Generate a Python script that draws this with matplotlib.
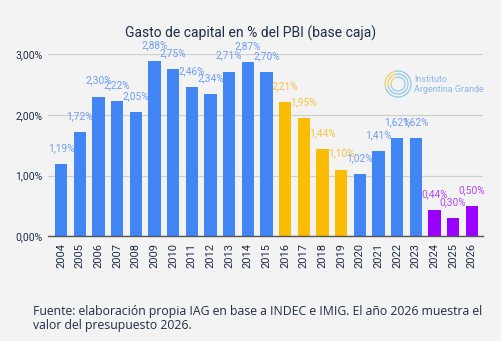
import matplotlib.pyplot as plt
import numpy as np

years = [str(y) for y in range(2004, 2027)]
valores = [1.19, 1.72, 2.30, 2.22, 2.05, 2.88, 2.75, 2.46, 2.34, 2.71, 2.87, 2.70,
           2.21, 1.95, 1.44, 1.10, 1.02, 1.41, 1.62, 1.62, 0.44, 0.30, 0.50]
grupo = ['b'] * 12 + ['y'] * 4 + ['b'] * 4 + ['p'] * 3
yticks = [0, 1, 2, 3]
ytick_labels = ['0,00%', '1,00%', '2,00%', '3,00%']

bar_col = {'b': '#4285f4', 'y': '#fbbc04', 'p': '#9900ff'}
lab_col = {'b': '#6d9ef3', 'y': '#f6c241', 'p': '#b04af7'}
bg = '#f3f3f3'
navy = '#1f2d45'

fig = plt.figure(figsize=(5.01, 3.41), dpi=100, facecolor=bg)
ax = fig.add_axes([0.096, 0.3065, 0.868, 0.535])
ax.set_facecolor(bg)

x = np.arange(len(years))
ax.bar(x, valores, width=0.66, color=[bar_col[g] for g in grupo], zorder=3)
for xi, v, g in zip(x, valores, grupo):
    ax.annotate(f'{v:.2f}%'.replace('.', ','), (xi, v), xytext=(0, 16),
                textcoords='offset pixels', ha='center', va='center',
                fontsize=7.3, color=lab_col[g], family='Roboto', annotation_clip=False)

ax.set_xlim(-0.7, 22.6)
ax.set_ylim(0, 3.0)
ax.set_yticks(yticks)
ax.set_yticklabels(ytick_labels, fontsize=7.5, color=navy, family='Roboto')
ax.set_xticks(x)
ax.set_xticklabels(years, rotation=90, fontsize=8, color=navy, family='Roboto')
ax.tick_params(axis='y', length=0, pad=4)
ax.tick_params(axis='x', length=0, pad=5)
ax.grid(axis='y', color='#cfcfcf', linewidth=0.9, zorder=0)
for s in ['top', 'right', 'left']:
    ax.spines[s].set_visible(False)
ax.spines['bottom'].set_color('#555555')
ax.spines['bottom'].set_linewidth(1)
ax.spines['bottom'].set_zorder(4)

fig.text(0.5, 0.903, 'Gasto de capital en % del PBI (base caja)', ha='center', va='center',
         fontsize=10, color=navy, family='Roboto')

# logo (anillo de puntos)
ang = np.linspace(0, 2 * np.pi, 60, endpoint=False)
cx, cy = 398 / 501, 1 - 84 / 341
for r, s in [(13, 1.2), (10, 1.0), (7, 0.7)]:
    px = cx + r * np.cos(ang) / 501
    py = cy + r * np.sin(ang) / 341
    cols = ['#f0d060' if 1.8 < a < 3.4 else '#8cc8e8' for a in ang]
    ax.scatter(px, py, s=s, c=cols, transform=fig.transFigure, linewidths=0, clip_on=False, zorder=5)
fig.text(414 / 501, 1 - 80 / 341, 'Instituto', fontsize=6.5, color='#8fb8ea', va='center', family='Roboto')
fig.text(414 / 501, 1 - 89 / 341, 'Argentina Grande', fontsize=6.5, color='#8fb8ea', va='center', family='Roboto')

fig.text(33 / 501, 1 - 318 / 341,
         'Fuente: elaboración propia IAG en base a INDEC e IMIG. El año 2026 muestra el\nvalor del presupuesto 2026.',
         ha='left', va='center', fontsize=8.8, color=navy, family='Open Sans', linespacing=1.1)

fig.savefig('out.png', dpi=100, facecolor=bg)
